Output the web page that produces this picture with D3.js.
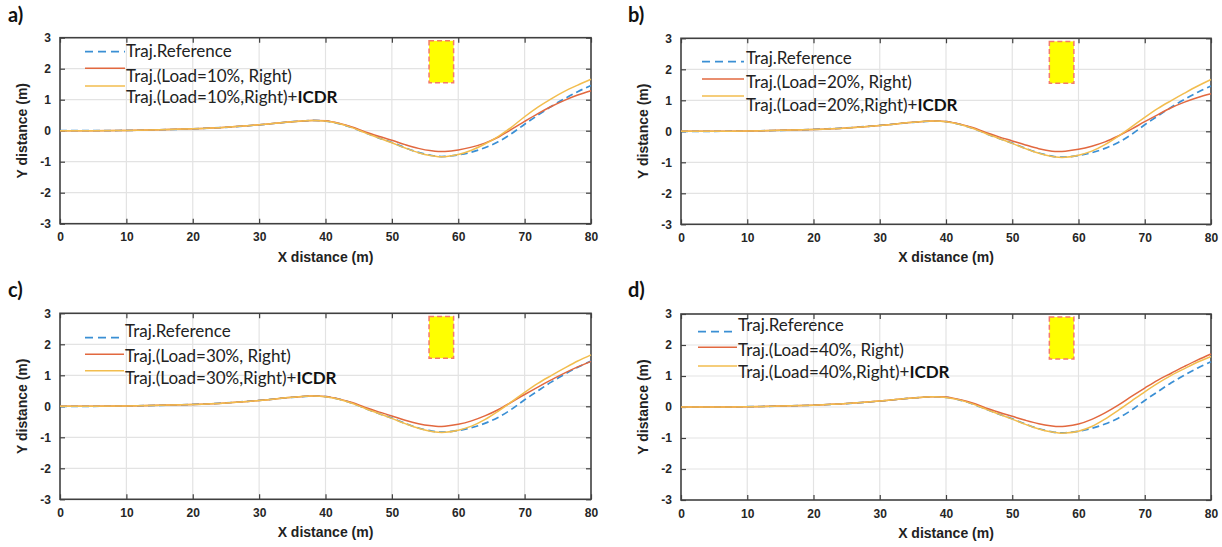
<!DOCTYPE html>
<html>
<head>
<meta charset="utf-8">
<script src="https://cdn.jsdelivr.net/npm/d3@7"></script>
<style>
  html, body { margin: 0; padding: 0; background: #fff; }
  svg { display: block; }
</style>
</head>
<body>
<svg id="chart" width="1222" height="547"></svg>
<script>
// ---------- data ----------
const xs = [0,5,10,15,20,25,30,35,38,40,42,44,46,48,50,52,54,56,57,58,60,62,64,66,68,70,72,74,76,78,80];

const refY = [0,0,0.01,0.03,0.06,0.11,0.19,0.29,0.33,0.31,0.23,0.10,-0.07,-0.23,-0.38,-0.55,-0.70,-0.80,-0.83,-0.83,-0.78,-0.69,-0.55,-0.36,-0.10,0.21,0.50,0.78,1.03,1.26,1.46];

const load10 = [0,0,0.01,0.03,0.06,0.11,0.19,0.29,0.33,0.32,0.24,0.12,-0.04,-0.18,-0.31,-0.45,-0.57,-0.65,-0.67,-0.67,-0.62,-0.53,-0.40,-0.21,0.04,0.30,0.55,0.78,0.98,1.15,1.29];
const icdr10 = [0,0,0.01,0.03,0.06,0.11,0.19,0.29,0.33,0.31,0.23,0.10,-0.07,-0.23,-0.39,-0.56,-0.71,-0.81,-0.84,-0.84,-0.77,-0.63,-0.43,-0.19,0.11,0.45,0.76,1.03,1.27,1.47,1.66];

const load20 = [0,0,0.01,0.03,0.06,0.11,0.19,0.29,0.33,0.32,0.24,0.12,-0.04,-0.18,-0.31,-0.44,-0.56,-0.64,-0.65,-0.64,-0.58,-0.48,-0.34,-0.15,0.07,0.31,0.54,0.76,0.94,1.09,1.21];
const icdr20 = [0,0,0.01,0.03,0.06,0.11,0.19,0.29,0.33,0.31,0.23,0.10,-0.07,-0.23,-0.39,-0.56,-0.71,-0.81,-0.84,-0.84,-0.77,-0.64,-0.43,-0.16,0.14,0.45,0.74,0.99,1.23,1.46,1.67];

const load30 = [0,0,0.01,0.03,0.06,0.11,0.19,0.29,0.33,0.32,0.24,0.12,-0.04,-0.18,-0.31,-0.45,-0.56,-0.63,-0.65,-0.64,-0.58,-0.47,-0.31,-0.11,0.13,0.38,0.62,0.85,1.07,1.27,1.45];
const icdr30 = [0,0,0.01,0.03,0.06,0.11,0.19,0.29,0.33,0.31,0.23,0.10,-0.07,-0.23,-0.39,-0.56,-0.71,-0.81,-0.84,-0.84,-0.77,-0.64,-0.43,-0.16,0.14,0.45,0.74,0.99,1.23,1.46,1.66];

const load40 = [0,0,0.01,0.03,0.06,0.11,0.19,0.29,0.33,0.32,0.24,0.13,-0.03,-0.17,-0.30,-0.43,-0.54,-0.61,-0.63,-0.62,-0.55,-0.40,-0.19,0.06,0.34,0.61,0.87,1.09,1.31,1.52,1.71];
const icdr40 = [0,0,0.01,0.03,0.06,0.11,0.19,0.29,0.33,0.31,0.23,0.10,-0.07,-0.23,-0.39,-0.56,-0.71,-0.81,-0.84,-0.84,-0.78,-0.63,-0.39,-0.11,0.19,0.49,0.77,1.02,1.24,1.45,1.63];

const panelLabels = ["a)", "b)", "c)", "d)"];
const loadLabels = ["10%", "20%", "30%", "40%"];
const loadSeries = [load10, load20, load30, load40];
const icdrSeries = [icdr10, icdr20, icdr30, icdr40];

const xTicks = [0,10,20,30,40,50,60,70,80];
const yTicks = [-3,-2,-1,0,1,2,3];
const obstacleX = [55.6, 59.3];
const obstacleY = [1.55, 2.9];

// ---------- layout ----------
const panels = [
  { x0: 60,  x1: 591,  y0: 37.7,  y1: 223.7, lab: [8, 22],
    legText: 126, legLine: [85, 125],  textY: [51, 76, 97],  lineY: [51.7, 68.3, 86] },
  { x0: 681, x1: 1211, y0: 38.3,  y1: 224.3, lab: [628, 22],
    legText: 746, legLine: [702, 744], textY: [58, 81.7, 105], lineY: [61.7, 79, 96] },
  { x0: 60,  x1: 591,  y0: 313.3, y1: 499.3, lab: [8, 297],
    legText: 125, legLine: [85, 124],  textY: [331.5, 356.5, 378.3], lineY: [337.7, 354.3, 370.7] },
  { x0: 681, x1: 1211, y0: 314,   y1: 500,   lab: [628, 297],
    legText: 738, legLine: [698, 737], textY: [325, 350, 371.7], lineY: [331.7, 347.3, 366] }
];

const C_REF = "#3a8fd4", C_LOAD = "#e2683f", C_ICDR = "#f2bd4e";
const svg = d3.select("#chart");
const numFmt = d => String(d);

panels.forEach((p, i) => {
  const g = svg.append("g");
  const x = d3.scaleLinear().domain([0, 80]).range([p.x0, p.x1]);
  const y = d3.scaleLinear().domain([-3, 3]).range([p.y1, p.y0]);

  // grid
  g.append("g").selectAll("line").data(xTicks.slice(1, -1)).join("line")
    .attr("x1", d => x(d)).attr("x2", d => x(d)).attr("y1", p.y0).attr("y2", p.y1)
    .attr("stroke", "#e3e3e3").attr("stroke-width", 1.2);
  g.append("g").selectAll("line").data(yTicks.slice(1, -1)).join("line")
    .attr("y1", d => y(d)).attr("y2", d => y(d)).attr("x1", p.x0).attr("x2", p.x1)
    .attr("stroke", "#e3e3e3").attr("stroke-width", 1.2);

  // axes
  const axB = d3.axisBottom(x).tickValues(xTicks).tickSize(-5).tickPadding(9).tickFormat(numFmt);
  const axL = d3.axisLeft(y).tickValues(yTicks).tickSize(-5).tickPadding(9).tickFormat(numFmt);
  const axT = d3.axisTop(x).tickValues(xTicks).tickSize(-5).tickFormat("");
  const axR = d3.axisRight(y).tickValues(yTicks).tickSize(-5).tickFormat("");
  const style = sel => {
    sel.selectAll("line").attr("stroke", "#404040").attr("stroke-width", 1.2);
    sel.selectAll("text").attr("fill", "#262626").attr("font-family", "'Liberation Sans', Arial, sans-serif")
      .attr("font-weight", "bold").attr("font-size", 12);
  };
  g.append("g").attr("transform", `translate(0,${p.y1})`).call(axB).call(style);
  g.append("g").attr("transform", `translate(${p.x0},0)`).call(axL).call(style);
  g.append("g").attr("transform", `translate(0,${p.y0})`).call(axT).call(style);
  g.append("g").attr("transform", `translate(${p.x1},0)`).call(axR).call(style);
  g.selectAll(".domain").remove();
  g.append("rect").attr("x", p.x0).attr("y", p.y0).attr("width", p.x1 - p.x0).attr("height", p.y1 - p.y0)
    .attr("fill", "none").attr("stroke", "#404040").attr("stroke-width", 1.6);

  // obstacle
  g.append("rect")
    .attr("x", x(obstacleX[0])).attr("y", y(obstacleY[1]))
    .attr("width", x(obstacleX[1]) - x(obstacleX[0]))
    .attr("height", y(obstacleY[0]) - y(obstacleY[1]))
    .attr("fill", "#ffff00").attr("stroke", "#f47a6a").attr("stroke-width", 1.5)
    .attr("stroke-dasharray", "5,3");

  // lines
  const line = d3.line().x((d, k) => x(xs[k])).y(d => y(d)).curve(d3.curveCatmullRom.alpha(0.5));
  g.append("path").attr("d", line(refY)).attr("fill", "none").attr("stroke", C_REF)
    .attr("stroke-width", 1.7).attr("stroke-dasharray", "7,4");
  g.append("path").attr("d", line(loadSeries[i])).attr("fill", "none").attr("stroke", C_LOAD).attr("stroke-width", 1.5);
  g.append("path").attr("d", line(icdrSeries[i])).attr("fill", "none").attr("stroke", C_ICDR).attr("stroke-width", 1.5);

  // legend
  const lf = "Lato, 'Open Sans', sans-serif";
  g.append("line").attr("x1", p.legLine[0]).attr("x2", p.legLine[1]).attr("y1", p.lineY[0]).attr("y2", p.lineY[0])
    .attr("stroke", C_REF).attr("stroke-width", 1.8).attr("stroke-dasharray", "8,5");
  g.append("line").attr("x1", p.legLine[0]).attr("x2", p.legLine[1]).attr("y1", p.lineY[1]).attr("y2", p.lineY[1])
    .attr("stroke", C_LOAD).attr("stroke-width", 1.5);
  g.append("line").attr("x1", p.legLine[0]).attr("x2", p.legLine[1]).attr("y1", p.lineY[2]).attr("y2", p.lineY[2])
    .attr("stroke", C_ICDR).attr("stroke-width", 1.5);
  const legTexts = ["Traj.Reference", `Traj.(Load=${loadLabels[i]}, Right)`];
  legTexts.forEach((t, k) => {
    g.append("text").attr("x", p.legText).attr("y", p.textY[k]).attr("dy", "0.35em")
      .attr("font-family", lf).attr("font-size", 17).attr("fill", "#222").text(t);
  });
  const t3 = g.append("text").attr("x", p.legText).attr("y", p.textY[2]).attr("dy", "0.35em")
    .attr("font-family", lf).attr("font-size", 17).attr("fill", "#222");
  t3.append("tspan").text(`Traj.(Load=${loadLabels[i]},Right)+`);
  t3.append("tspan").attr("font-weight", "bold").attr("fill", "#111").text("ICDR");

  // axis titles
  g.append("text").attr("x", (p.x0 + p.x1) / 2).attr("y", p.y1 + 33).attr("dy", "0.35em")
    .attr("text-anchor", "middle").attr("font-family", "'Liberation Sans', Arial, sans-serif")
    .attr("font-weight", "bold").attr("font-size", 14).attr("fill", "#222").text("X distance (m)");
  g.append("text").attr("transform", `translate(${p.x0 - 38},${(p.y0 + p.y1) / 2}) rotate(-90)`)
    .attr("dy", "0.35em").attr("text-anchor", "middle").attr("font-family", "'Liberation Sans', Arial, sans-serif")
    .attr("font-weight", "bold").attr("font-size", 14).attr("fill", "#222").text("Y distance (m)");

  // panel label
  g.append("text").attr("x", p.lab[0]).attr("y", p.lab[1]).attr("font-family", "Lato, 'Open Sans', sans-serif")
    .attr("font-weight", "bold").attr("font-size", 20).attr("fill", "#111").text(panelLabels[i]);
});
</script>
</body>
</html>
